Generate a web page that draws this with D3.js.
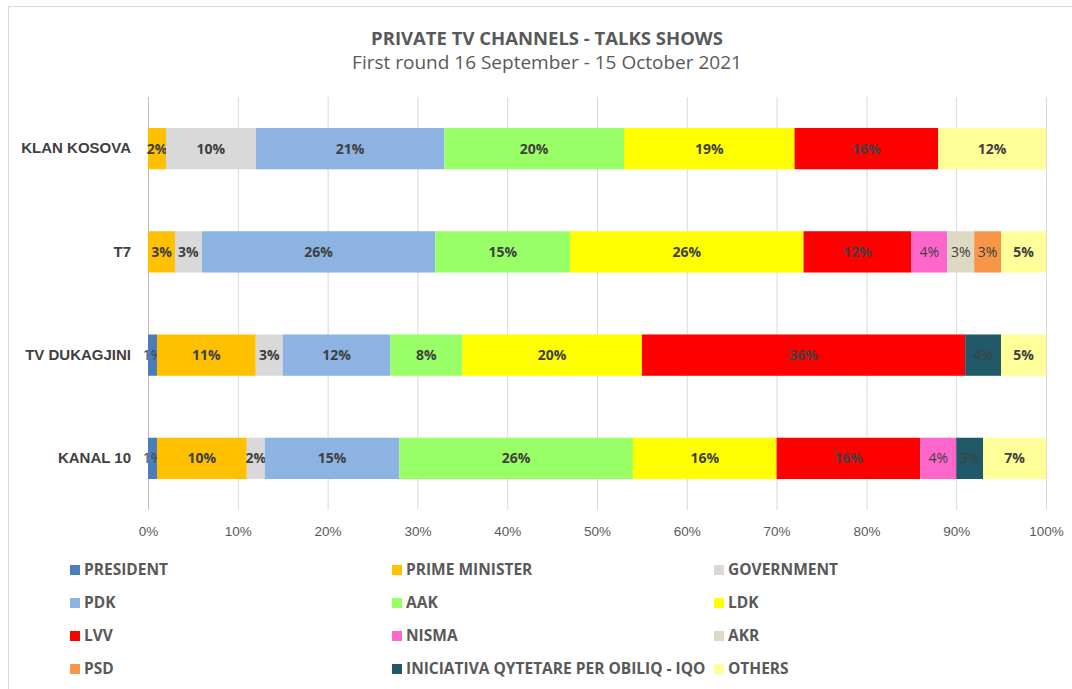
<!DOCTYPE html>
<html>
<head>
<meta charset="utf-8">
<script src="https://cdn.jsdelivr.net/npm/d3@7"></script>
<style>
  body { margin: 0; background: #fff; }
  svg { font-family: "Open Sans", "Noto Sans", sans-serif; }
</style>
</head>
<body>
<div id="chart"></div>
<script>
const channels = ["KLAN KOSOVA", "T7", "TV DUKAGJINI", "KANAL 10"];
const seriesNames = ["PRESIDENT", "PRIME MINISTER", "GOVERNMENT", "PDK", "AAK", "LDK",
                     "LVV", "NISMA", "AKR", "PSD", "INICIATIVA QYTETARE PER OBILIQ - IQO", "OTHERS"];
// one array per channel, in seriesNames order (percent)
const klanKosova  = [0, 2, 10, 21, 20, 19, 16, 0, 0, 0, 0, 12];
const t7          = [0, 3, 3, 26, 15, 26, 12, 4, 3, 3, 0, 5];
const tvDukagjini = [1, 11, 3, 12, 8, 20, 36, 0, 0, 0, 4, 5];
const kanal10     = [1, 10, 2, 15, 26, 16, 16, 4, 0, 0, 3, 7];
const xTicks = [0, 10, 20, 30, 40, 50, 60, 70, 80, 90, 100];

const seriesColors = ["#4a7ebb", "#ffc000", "#d9d9d9", "#8db3e2", "#99ff66", "#ffff00",
                      "#ff0000", "#ff66cc", "#ddd9c3", "#f79646", "#215968", "#ffff99"];
const lightLabel = ["PRESIDENT", "NISMA", "AKR", "PSD", "INICIATIVA QYTETARE PER OBILIQ - IQO"];

const valuesByChannel = [klanKosova, t7, tvDukagjini, kanal10];
const rows = channels.map((c, i) => {
    const r = { channel: c };
    seriesNames.forEach((s, j) => r[s] = valuesByChannel[i][j]);
    return r;
});

const W = 1072, H = 689;
const margin = { top: 97, left: 148, right: 26, bottom: 179 };
const width = W - margin.left - margin.right;
const height = H - margin.top - margin.bottom;
const textColor = "#595959";

const svg = d3.select("#chart").append("svg")
    .attr("width", W).attr("height", H);

// outer chart border
svg.append("rect")
   .attr("x", 8.5).attr("y", 6.5)
   .attr("width", W + 10).attr("height", H + 10)
   .attr("fill", "none").attr("stroke", "#d9d9d9");

// titles
svg.append("text")
   .attr("x", 547).attr("y", 45)
   .attr("text-anchor", "middle")
   .attr("font-size", "18.5px").attr("font-weight", "bold")
   .attr("fill", textColor)
   .text("PRIVATE TV CHANNELS - TALKS SHOWS");
svg.append("text")
   .attr("x", 547).attr("y", 69)
   .attr("text-anchor", "middle")
   .attr("font-size", "19px")
   .attr("fill", textColor)
   .text("First round 16 September - 15 October 2021");

const g = svg.append("g")
    .attr("transform", `translate(${margin.left}, ${margin.top})`);

const xScale = d3.scaleLinear().domain([0, 100]).range([0, width]);
const yScale = d3.scaleBand()
    .domain(channels)
    .range([0, height])
    .paddingInner(0.6)
    .paddingOuter(0.3);

// X axis with gridlines
g.append("g")
 .attr("transform", `translate(0, ${height})`)
 .call(d3.axisBottom(xScale).tickValues(xTicks).tickSize(height).tickPadding(10)
        .tickFormat(d => d + "%"))
 .call(ax => {
     ax.select(".domain").remove();
     ax.selectAll("line").attr("stroke", "#d9d9d9").attr("transform", `translate(0, ${-height})`);
     ax.selectAll("text")
       .attr("fill", textColor)
       .attr("font-size", "13.5px")
       .attr("y", 16);
 });

// Y axis labels
g.append("g")
 .call(d3.axisLeft(yScale).tickSize(0).tickPadding(17))
 .call(ax => {
     ax.select(".domain").remove();
     ax.selectAll("text")
       .attr("fill", "#404040")
       .attr("font-size", "15px")
       .attr("font-weight", "bold");
 });

// vertical axis line at 0
g.append("line")
 .attr("x1", xScale(0) + 0.5).attr("x2", xScale(0) + 0.5)
 .attr("y1", 0).attr("y2", height)
 .attr("stroke", "#bfbfbf");

// stacked bars
const stacked = d3.stack().keys(seriesNames)(rows);

const layers = g.append("g")
    .selectAll("g")
    .data(stacked)
    .join("g")
    .attr("fill", (d, i) => seriesColors[i]);

layers.selectAll("rect")
    .data(d => d.filter(s => s[1] - s[0] > 0))
    .join("rect")
    .attr("x", d => xScale(d[0]))
    .attr("y", d => yScale(d.data.channel))
    .attr("width", d => xScale(d[1]) - xScale(d[0]))
    .attr("height", yScale.bandwidth());

// value labels
layers.each(function(layer) {
    const isLight = lightLabel.includes(layer.key);
    d3.select(this).selectAll("text")
      .data(layer.filter(s => s[1] - s[0] > 0))
      .join("text")
      .attr("x", d => (xScale(d[0]) + xScale(d[1])) / 2)
      .attr("y", d => yScale(d.data.channel) + yScale.bandwidth() / 2)
      .attr("dy", "0.35em")
      .attr("text-anchor", "middle")
      .attr("font-size", "14px")
      .attr("font-weight", isLight ? "normal" : "bold")
      .attr("fill", "#404040")
      .text(d => (d[1] - d[0]) + "%");
});

// legend
const legendCols = [70, 392, 714];
const legendRows = [570, 603, 636, 669];
const legend = svg.append("g")
    .selectAll("g")
    .data(seriesNames)
    .join("g")
    .attr("transform", (d, i) => `translate(${legendCols[i % 3]}, ${legendRows[Math.floor(i / 3)]})`);

legend.append("rect")
    .attr("x", 0).attr("y", -5)
    .attr("width", 10).attr("height", 10)
    .attr("fill", (d, i) => seriesColors[i]);

legend.append("text")
    .attr("x", 14).attr("dy", "0.35em")
    .attr("font-size", "15.5px")
    .attr("font-weight", "bold")
    .attr("fill", textColor)
    .text(d => d);
</script>
</body>
</html>
